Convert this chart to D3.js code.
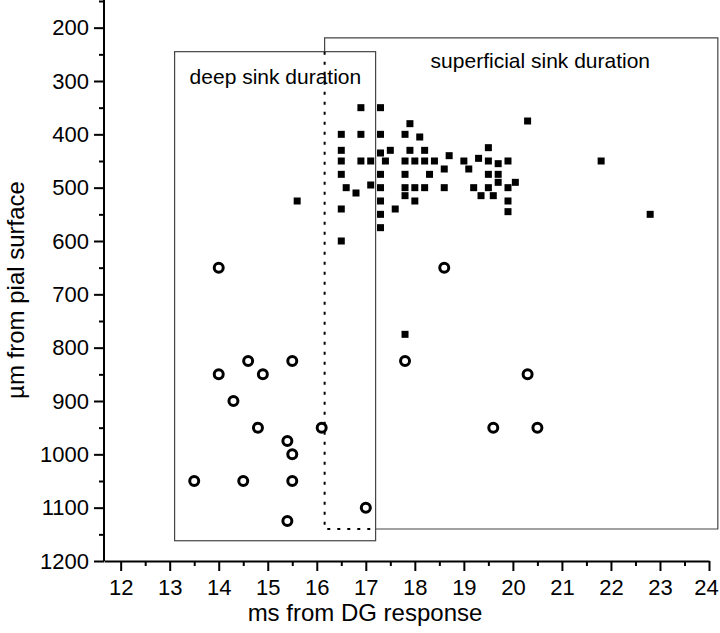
<!DOCTYPE html>
<html>
<head>
<meta charset="utf-8">
<script src="https://d3js.org/d3.v7.min.js"></script>
<style>
body { margin: 0; background: #fff; }
svg text { font-family: "Liberation Sans", Arial, sans-serif; fill: #000; }
.axis path, .axis line { stroke: #000; stroke-width: 2; fill: none; }
.axis text { font-size: 22px; }
</style>
</head>
<body>
<div id="chart"></div>
<script>
// open circles: deep sink (ms, µm)
var deepX = [14.0, 14.6, 15.5, 14.0, 14.9, 14.3, 14.8, 16.1, 15.4, 15.5, 13.5, 14.5, 15.5, 17.0, 15.4,
             18.6, 17.8, 20.3, 19.6, 20.5];
var deepY = [650, 825, 825, 850, 850, 900, 950, 950, 975, 1000, 1050, 1050, 1050, 1100, 1125,
             650, 825, 850, 950, 950];

// filled squares: superficial sink
var supX = [15.6, 16.5, 16.5, 16.5, 16.5, 16.5, 16.5, 16.6, 16.8, 16.9, 16.9, 16.9, 17.1, 17.1,
            17.3, 17.3, 17.3, 17.3, 17.3, 17.3, 17.3, 17.3, 17.4, 17.5, 17.6,
            17.8, 17.8, 17.8, 17.8, 17.8, 17.9, 17.9, 18.1, 18.0, 18.0, 18.0,
            18.2, 18.2, 18.2, 18.3, 18.4, 18.6, 18.6, 18.7, 19.0, 19.1, 19.2, 19.3, 19.35,
            19.5, 19.5, 19.5, 19.5, 19.6, 19.7, 19.7, 19.7, 19.9, 19.9, 19.9, 19.9, 20.05,
            20.3, 21.8, 22.8, 17.8];
var supY = [525, 400, 430, 450, 475, 540, 600, 500, 510, 350, 400, 450, 450, 495,
            350, 400, 435, 475, 500, 525, 550, 575, 450, 430, 540,
            400, 450, 475, 500, 515, 380, 430, 405, 450, 500, 525,
            450, 500, 430, 475, 450, 465, 500, 440, 450, 465, 500, 445, 515,
            425, 450, 475, 500, 515, 455, 475, 490, 450, 500, 525, 545, 490,
            375, 450, 550, 775];

var xTicks = [12, 13, 14, 15, 16, 17, 18, 19, 20, 21, 22, 23, 24];
var yTicks = [200, 300, 400, 500, 600, 700, 800, 900, 1000, 1100, 1200];

// duration windows [x0, x1, y0, y1] in data units
var deepBox = [13.1, 17.2, 245, 1162];
var supBox = [16.16, 24.18, 219, 1140];

var W = 720, H = 633;
var margin = {top: 1, right: 11, bottom: 72, left: 104};

var svg = d3.select("#chart").append("svg")
  .attr("width", W).attr("height", H);

var x = d3.scaleLinear().domain([11.66, 24]).range([margin.left, W - margin.right]);
var y = d3.scaleLinear().domain([150, 1200]).range([margin.top, H - margin.bottom]);

var xMinor = d3.range(12.5, 24, 1);
var yMinor = d3.range(150, 1200, 100);

// boxes
svg.append("rect")
  .attr("x", x(deepBox[0])).attr("y", y(deepBox[2]))
  .attr("width", x(deepBox[1]) - x(deepBox[0]))
  .attr("height", y(deepBox[3]) - y(deepBox[2]))
  .attr("fill", "none").attr("stroke", "#444").attr("stroke-width", 1.2);

// superficial box: solid except where it lies inside the deep box
var sx0 = x(supBox[0]), sx1 = x(supBox[1]), sy0 = y(supBox[2]), sy1 = y(supBox[3]);
var dx1 = x(deepBox[1]), dy0 = y(deepBox[2]);
svg.append("path")
  .attr("d", "M" + sx0 + "," + dy0 + "V" + sy0 + "H" + sx1 + "V" + sy1 + "H" + dx1)
  .attr("fill", "none").attr("stroke", "#444").attr("stroke-width", 1.2);
svg.append("path")
  .attr("d", "M" + sx0 + "," + dy0 + "V" + sy1 + "H" + dx1)
  .attr("fill", "none").attr("stroke", "#000").attr("stroke-width", 2)
  .attr("stroke-dasharray", "3,7");

svg.append("text")
  .attr("x", x(deepBox[0]) + 15).attr("y", y(deepBox[2]) + 32)
  .style("font-size", "21px")
  .text("deep sink duration");
svg.append("text")
  .attr("x", sx0 + 106).attr("y", sy0 + 30)
  .style("font-size", "21px")
  .text("superficial sink duration");

// axes
var gx = svg.append("g").attr("class", "axis")
  .attr("transform", "translate(0," + (H - margin.bottom) + ")");
gx.call(d3.axisBottom(x).tickValues(xMinor).tickSize(5).tickSizeOuter(0).tickFormat(""));
gx.append("g").call(d3.axisBottom(x).tickValues(xTicks).tickSize(10).tickSizeOuter(0).tickPadding(8))
  .select(".domain").remove();
gx.selectAll(".tick text").filter(function(d) { return d === 24; }).attr("dx", "-3");

var gy = svg.append("g").attr("class", "axis")
  .attr("transform", "translate(" + margin.left + ",0)");
gy.call(d3.axisLeft(y).tickValues(yMinor).tickSize(5).tickSizeOuter(0).tickFormat(""));
gy.append("g").call(d3.axisLeft(y).tickValues(yTicks).tickSize(10).tickSizeOuter(0).tickPadding(5)
    .tickFormat(d3.format("d")))
  .select(".domain").remove();
gy.selectAll(".domain").attr("d", "M0," + (margin.top - 1) + "V" + (H - margin.bottom));

svg.append("text")
  .attr("x", 365).attr("y", H - 12)
  .attr("text-anchor", "middle")
  .style("font-size", "24px")
  .text("ms from DG response");

svg.append("text")
  .attr("transform", "translate(24," + 290 + ") rotate(-90)")
  .attr("text-anchor", "middle")
  .style("font-size", "24px")
  .text("µm from pial surface");

// marks
var sq = 7;
svg.append("g").selectAll("rect")
  .data(d3.range(supX.length))
  .enter().append("rect")
  .attr("x", function(i) { return x(supX[i]) - sq / 2; })
  .attr("y", function(i) { return y(supY[i]) - sq / 2; })
  .attr("width", sq).attr("height", sq)
  .attr("fill", "#000");

svg.append("g").selectAll("circle")
  .data(d3.range(deepX.length))
  .enter().append("circle")
  .attr("cx", function(i) { return x(deepX[i]); })
  .attr("cy", function(i) { return y(deepY[i]); })
  .attr("r", 4.5)
  .attr("fill", "#fff").attr("stroke", "#000").attr("stroke-width", 3);
</script>
</body>
</html>
